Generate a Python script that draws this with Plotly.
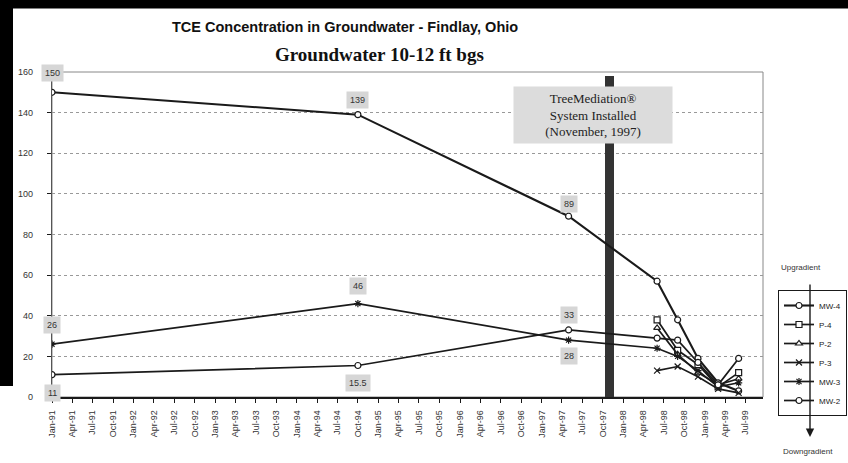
import plotly.graph_objects as go

# ---------------- data ----------------
sample_dates = ["1991-01-01", "1994-10-01", "1997-05-01", "1998-06-01",
                "1998-09-01", "1998-12-01", "1999-03-01", "1999-06-01"]
post_dates = sample_dates[3:]

mw4 = [150, 139, 89, 57, 38, 19, 7, 3]
mw3 = [26, 46, 28, 24, 20, 13, 5, 7]
mw2 = [11, 15.5, 33, 29, 28, 17, 6, 19]
p4 = [38, 23, 16, 5, 12]
p2 = [34, 21, 12, 6, 9]
p3 = [13, 15, 10, 4, 2]

install_date = ["1997-11-01"]
install_height = [158]

# data labels: (date, value, text, pixel shift)
label_pts = [
    (sample_dates[0], 150, "150", 19),
    (sample_dates[1], 139, "139", 15),
    (sample_dates[2], 89, "89", 12),
    (sample_dates[0], 26, "26", 19),
    (sample_dates[1], 46, "46", 18),
    (sample_dates[2], 28, "28", -16),
    (sample_dates[0], 11, "11", -18),
    (sample_dates[1], 15.5, "15.5", -17),
    (sample_dates[2], 33, "33", 15),
]

# ---------------- layout geometry ----------------
W, H = 848, 463
ML, MR, MT, MB = 52, 85, 72, 66
PW, PH = W - ML - MR, H - MT - MB


def px(x):
    return (x - ML) / PW


def py(y):
    return (H - MB - y) / PH


INK = "#1a1a1a"

fig = go.Figure()

fig.add_trace(go.Bar(x=install_date, y=install_height, width=[3.4e9],
                     marker=dict(color="#333333", line=dict(width=0)),
                     showlegend=False, hoverinfo="skip"))


def series(name, x, y, symbol, lw=1.7, fill="white"):
    fig.add_trace(go.Scatter(
        x=x, y=y, name=name, mode="lines+markers",
        line=dict(color=INK, width=lw),
        marker=dict(symbol=symbol, size=6, color=fill,
                    line=dict(color=INK, width=1.2)),
    ))


series("MW-4", sample_dates, mw4, "circle", 2.1)
series("P-4", post_dates, p4, "square")
series("P-2", post_dates, p2, "triangle-up")
series("P-3", post_dates, p3, "x-thin", fill=INK)
series("MW-3", sample_dates, mw3, "asterisk", fill=INK)
series("MW-2", sample_dates, mw2, "circle")


def note(x, y, text, size, family, color="#222", **kw):
    d = dict(x=x, y=y, xref="paper", yref="paper", showarrow=False,
             xanchor="center", yanchor="middle", text=text,
             font=dict(size=size, color=color, family=family))
    d.update(kw)
    return d


annotations = []
for d, v, t, s in label_pts:
    annotations.append(dict(x=d, y=v, text=t, showarrow=False, yshift=s,
                            xanchor="center", yanchor="middle",
                            bgcolor="#d6d6d6", borderpad=3,
                            font=dict(size=9, color="#333",
                                      family="Liberation Sans")))

annotations.append(note(px(593), py(115),
                        "TreeMediation®<br>System Installed<br>(November, 1997)",
                        13, "Liberation Serif",
                        width=152, height=50, bgcolor="#dcdcdc", borderpad=3))

annotations.append(note(px(345), py(27),
                        "<b>TCE Concentration in Groundwater - Findlay, Ohio</b>",
                        14.5, "Liberation Sans", color="#111"))
annotations.append(note(px(379), py(54), "<b>Groundwater 10-12 ft bgs</b>",
                        19, "Liberation Serif", color="#111"))
annotations.append(note(px(801), py(267), "Upgradient", 8, "Liberation Sans",
                        color="#333"))
annotations.append(note(px(808), py(451), "Downgradient", 8, "Liberation Sans",
                        color="#333"))
annotations.append(dict(
    x=px(810), y=py(437), xref="paper", yref="paper", ax=0, ay=-(437 - 283),
    axref="pixel", ayref="pixel", showarrow=True, arrowhead=2, arrowsize=1.2,
    arrowwidth=1.4, arrowcolor=INK, text=""))

shapes = [
    # plot frame (grey top/right)
    dict(type="rect", xref="paper", yref="paper", x0=0, x1=1, y0=0, y1=1,
         line=dict(color="#888", width=1), layer="below"),
    # black scan border top and left
    dict(type="rect", xref="paper", yref="paper", x0=px(0), x1=px(W),
         y0=py(0), y1=py(8), fillcolor="black", line=dict(color="black", width=1)),
    dict(type="rect", xref="paper", yref="paper", x0=px(0), x1=px(13),
         y0=py(0), y1=py(386), fillcolor="black", line=dict(width=0)),
]

fig.update_layout(
    width=W, height=H,
    margin=dict(l=ML, r=MR, t=MT, b=MB, autoexpand=False),
    paper_bgcolor="white", plot_bgcolor="white",
    showlegend=True,
    legend=dict(x=px(778), y=py(290), xanchor="left", yanchor="top",
                bgcolor="rgba(255,255,255,0)", bordercolor=INK, borderwidth=1,
                font=dict(size=8, color="#222", family="Liberation Sans"),
                tracegroupgap=0),
    annotations=annotations,
    shapes=shapes,
    bargap=0,
)

fig.update_xaxes(
    type="date", range=["1991-01-01", "1999-09-18"],
    tick0="1991-01-01", dtick="M3", tickformat="%b-%y", tickangle=-90,
    ticks="outside", ticklen=4, tickcolor=INK,
    showline=True, linecolor=INK, linewidth=1.5, showgrid=False,
    tickfont=dict(size=9, color="#333", family="Liberation Sans"),
    ticklabelstandoff=4,
)
fig.update_yaxes(
    range=[0, 160], dtick=20, ticks="outside", ticklen=4, tickcolor=INK,
    showline=True, linecolor="#555", linewidth=1.2,
    showgrid=True, gridcolor="#999", griddash="dot", gridwidth=1,
    zeroline=False,
    tickfont=dict(size=9, color="#333", family="Liberation Sans"),
    ticklabelstandoff=12,
)

fig.write_html(
    "out.html",
    config={"displayModeBar": False},
    post_script=(
        "document.body.style.margin='0';"
        "document.body.style.overflow='hidden';"
    ),
)
